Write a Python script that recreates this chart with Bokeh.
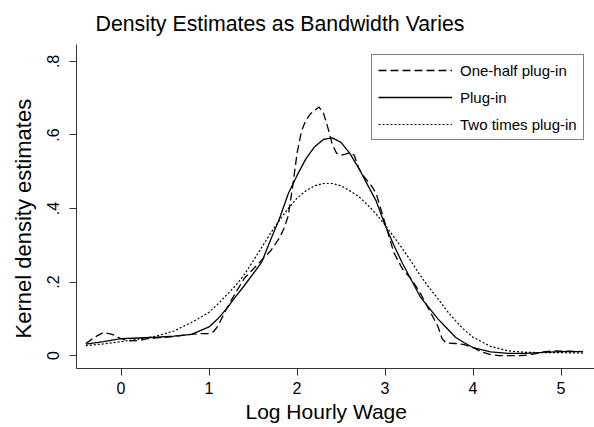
from bokeh.plotting import figure
from bokeh.models import Range1d, FixedTicker, Legend, LegendItem, Title
from bokeh.embed import file_html
from bokeh.resources import INLINE

# ---- data ----
x_half = [-0.4, -0.3, -0.2, -0.1, 0.0, 0.1, 0.2, 0.3, 0.4, 0.5, 0.6, 0.7, 0.8, 0.9, 1.0, 1.05,
          1.1, 1.2, 1.3, 1.4, 1.5, 1.6, 1.7, 1.8, 1.85, 1.9, 1.95, 2.0, 2.05, 2.1, 2.15, 2.2,
          2.25, 2.3, 2.35, 2.4, 2.45, 2.5, 2.55, 2.6, 2.65, 2.7, 2.75, 2.8, 2.85, 2.9, 3.0,
          3.1, 3.2, 3.3, 3.4, 3.5, 3.6, 3.65, 3.7, 3.8, 3.9, 4.0, 4.1, 4.2, 4.3, 4.5, 4.6,
          4.7, 4.8, 4.9, 5.0, 5.1, 5.25]
y_half = [0.033, 0.05, 0.063, 0.058, 0.046, 0.04, 0.041, 0.046, 0.048, 0.05, 0.052, 0.055, 0.058, 0.06, 0.06, 0.065,
          0.08, 0.128, 0.17, 0.21, 0.235, 0.26, 0.285, 0.32, 0.345, 0.38, 0.46, 0.55, 0.61, 0.64, 0.657, 0.667,
          0.676, 0.66, 0.62, 0.575, 0.55, 0.545, 0.548, 0.552, 0.545, 0.51, 0.49, 0.475, 0.46, 0.44, 0.36,
          0.28, 0.235, 0.208, 0.17, 0.125, 0.08, 0.045, 0.034, 0.033, 0.03, 0.022, 0.01, 0.003, 0.0, 0.0, 0.001,
          0.005, 0.01, 0.013, 0.012, 0.012, 0.011]

x_plug = [-0.4, -0.2, 0.0, 0.2, 0.4, 0.6, 0.8, 1.0, 1.1, 1.2, 1.3, 1.4, 1.5, 1.6, 1.7, 1.8, 1.9,
          2.0, 2.1, 2.2, 2.3, 2.4, 2.5, 2.6, 2.7, 2.8, 2.9, 3.0, 3.1, 3.2, 3.3, 3.4, 3.5, 3.6,
          3.7, 3.8, 3.9, 4.0, 4.2, 4.4, 4.6, 4.8, 5.0, 5.25]
y_plug = [0.031, 0.038, 0.046, 0.048, 0.05, 0.053, 0.058, 0.078, 0.1, 0.128, 0.16, 0.19, 0.222, 0.255, 0.315, 0.372, 0.44,
          0.49, 0.535, 0.568, 0.588, 0.592, 0.58, 0.55, 0.51, 0.465, 0.42, 0.355, 0.3, 0.25, 0.205, 0.16, 0.13, 0.1,
          0.075, 0.05, 0.035, 0.022, 0.01, 0.006, 0.006, 0.009, 0.011, 0.011]

x_double = [-0.4, -0.2, 0.0, 0.2, 0.4, 0.6, 0.8, 1.0, 1.1, 1.2, 1.3, 1.4, 1.5, 1.6, 1.7, 1.8, 1.9,
            2.0, 2.1, 2.2, 2.3, 2.4, 2.5, 2.6, 2.7, 2.8, 2.9, 3.0, 3.1, 3.2, 3.3, 3.4, 3.5, 3.6,
            3.7, 3.8, 3.9, 4.0, 4.2, 4.4, 4.6, 4.8, 5.0, 5.25]
y_double = [0.027, 0.032, 0.038, 0.045, 0.053, 0.067, 0.09, 0.118, 0.14, 0.165, 0.19, 0.22, 0.257, 0.295, 0.333, 0.368, 0.4,
            0.428, 0.448, 0.462, 0.468, 0.468, 0.462, 0.448, 0.433, 0.41, 0.385, 0.355, 0.323, 0.29, 0.255, 0.218, 0.185, 0.155,
            0.123, 0.095, 0.07, 0.05, 0.025, 0.013, 0.009, 0.008, 0.008, 0.007]

series_labels = ["One-half plug-in", "Plug-in", "Two times plug-in"]
x_ticks = [0, 1, 2, 3, 4, 5]
y_ticks = [0, 0.2, 0.4, 0.6, 0.8]
y_tick_labels = ["0", ".2", ".4", ".6", ".8"]
title_text = "Density Estimates as Bandwidth Varies"
x_title = "Log Hourly Wage"
y_title = "Kernel density estimates"

FONT = "Liberation Sans"

p = figure(width=594, height=427, output_backend="svg", toolbar_location=None,
           x_range=Range1d(-0.506, 5.38), y_range=Range1d(-0.035, 0.846),
           min_border_left=76, min_border_right=0, min_border_top=42, min_border_bottom=59)

p.outline_line_color = None
p.grid.visible = False
p.background_fill_color = "white"
p.border_fill_color = "white"

for ax in (p.xaxis[0], p.yaxis[0]):
    ax.axis_line_color = "#333333"
    ax.major_tick_line_color = "#333333"
    ax.major_tick_out = 7
    ax.major_tick_in = 0
    ax.minor_tick_line_color = None
    ax.major_label_text_font = FONT
    ax.major_label_text_font_size = "16px"
    ax.major_label_text_color = "black"

p.xaxis.ticker = FixedTicker(ticks=x_ticks)
p.xaxis.major_label_standoff = 6

p.yaxis.ticker = FixedTicker(ticks=y_ticks)
p.yaxis.major_label_overrides = {t: l for t, l in zip(y_ticks, y_tick_labels)}
p.yaxis.major_label_orientation = "parallel"
p.yaxis.major_label_standoff = 10

# titles as side-panel titles
main_title = Title(text=title_text, align="left", offset=19, text_font=FONT,
                   text_font_size="21.3px", text_font_style="normal", text_color="black", standoff=18)
p.add_layout(main_title, "above")
xlab = Title(text=x_title, align="left", offset=169, text_font=FONT,
             text_font_size="21px", text_font_style="normal", text_color="black", standoff=3)
p.add_layout(xlab, "below")
ylab = Title(text=y_title, align="left", offset=30, text_font=FONT,
             text_font_size="22px", text_font_style="normal", text_color="black", standoff=17)
p.add_layout(ylab, "left")

r1 = p.line(x_half, y_half, line_color="black", line_width=1.3, line_dash="8 4")
r2 = p.line(x_plug, y_plug, line_color="black", line_width=1.3)
r3 = p.line(x_double, y_double, line_color="black", line_width=1.2, line_dash="2 2")

legend = Legend(items=[LegendItem(label=series_labels[0], renderers=[r1]),
                       LegendItem(label=series_labels[1], renderers=[r2]),
                       LegendItem(label=series_labels[2], renderers=[r3])],
                location=(295, 228))
legend.border_line_color = "black"
legend.border_line_width = 1
legend.background_fill_alpha = 1
legend.label_text_font = FONT
legend.label_text_font_size = "15px"
legend.label_text_color = "black"
legend.glyph_width = 74
legend.glyph_height = 18
legend.label_height = 18
legend.spacing = 9
legend.padding = 6
legend.margin = 0
legend.label_standoff = 8
p.add_layout(legend, "center")

open("out.html", "w").write(file_html(p, INLINE))
